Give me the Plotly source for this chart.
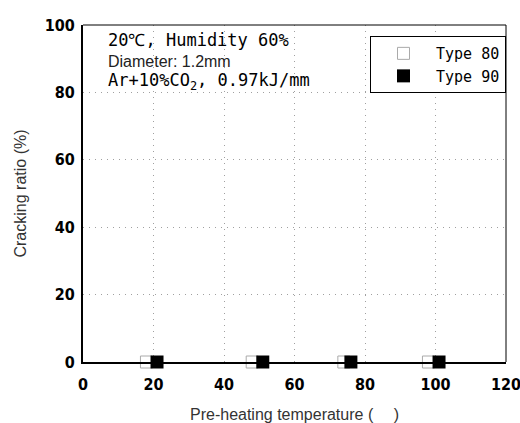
import plotly.graph_objects as go

# Data
type80_temp = [18, 48, 74, 98]
type80_ratio = [0, 0, 0, 0]
type90_temp = [21, 51, 76, 101]
type90_ratio = [0, 0, 0, 0]

x_ticks = [0, 20, 40, 60, 80, 100, 120]
y_ticks = [0, 20, 40, 60, 80, 100]

tick_font = dict(family="DejaVu Sans Condensed, Liberation Sans Narrow, DejaVu Sans", size=16, color="black", weight="bold")
mono = "DejaVu Sans Mono, Liberation Mono, monospace"
sans = "Liberation Sans, Arial, sans-serif"

fig = go.Figure()
fig.add_trace(go.Scatter(
    x=type80_temp, y=type80_ratio, mode="markers", name="Type 80",
    marker=dict(symbol="square", size=12, color="white", line=dict(color="#aaaaaa", width=1)),
    cliponaxis=False,
))
fig.add_trace(go.Scatter(
    x=type90_temp, y=type90_ratio, mode="markers", name="Type 90",
    marker=dict(symbol="square", size=13, color="black", line=dict(color="black", width=0)),
    cliponaxis=False,
))

fig.update_layout(
    width=520, height=423,
    margin=dict(l=83, r=14, t=25, b=61),
    paper_bgcolor="white", plot_bgcolor="white",
    showlegend=True,
    legend=dict(
        x=1, xanchor="right", y=0.967, yanchor="top",
        bordercolor="black", borderwidth=1, bgcolor="white",
        font=dict(family=mono, size=15, color="black"),
        itemwidth=55, tracegroupgap=0,
    ),
    xaxis=dict(
        range=[0, 120], tickvals=x_ticks, ticktext=[str(v) for v in x_ticks],
        showgrid=True, gridcolor="#a0a0a0", griddash="1px,5px", gridwidth=1,
        showline=True, linecolor="black", linewidth=1.5,
        ticks="", tickfont=tick_font, zeroline=False, ticklabeloverflow="allow",
        ticklabelstandoff=7, automargin=False,
        title=dict(text="Pre-heating temperature (　 )", font=dict(family=sans, size=16, color="#333"), standoff=19),
    ),
    yaxis=dict(
        range=[0, 100], tickvals=y_ticks, ticktext=[str(v) for v in y_ticks],
        showgrid=True, gridcolor="#a0a0a0", griddash="1px,5px", gridwidth=1,
        showline=True, linecolor="black", linewidth=2,
        ticks="", tickfont=tick_font, zeroline=False, ticklabelstandoff=3,
        automargin=False,
        title=dict(text="Cracking ratio (%)", font=dict(family=sans, size=16, color="#333"), standoff=14),
    ),
    shapes=[
        dict(type="line", xref="paper", yref="paper", x0=0, x1=1, y0=1, y1=1, line=dict(color="black", width=1)),
        dict(type="line", xref="paper", yref="paper", x0=1, x1=1, y0=0, y1=1, line=dict(color="black", width=1)),
    ],
    annotations=[
        dict(xref="paper", yref="paper", x=0.055, y=0.955, xanchor="left", yanchor="middle",
             text="20℃, Humidity 60%", showarrow=False, font=dict(family=mono, size=17, color="black")),
        dict(xref="paper", yref="paper", x=0.055, y=0.893, xanchor="left", yanchor="middle",
             text="Diameter: 1.2mm", showarrow=False, font=dict(family=sans, size=16, color="#222")),
        dict(xref="paper", yref="paper", x=0.055, y=0.832, xanchor="left", yanchor="middle",
             text="Ar+10%CO<sub>2</sub>, 0.97kJ/mm", showarrow=False, font=dict(family=mono, size=17, color="black")),
    ],
)

fig.write_html("out.html")
